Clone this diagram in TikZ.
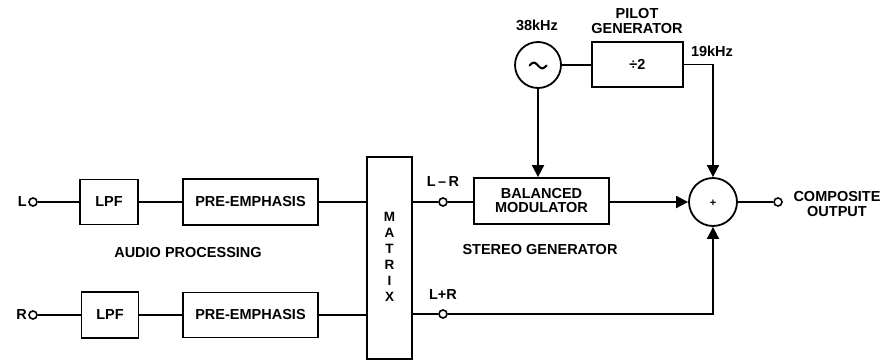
\documentclass[tikz,border=0pt]{standalone}
\usepackage{fontspec}
\setmainfont{Liberation Sans}
\usetikzlibrary{arrows.meta,calc}
\tikzset{
  blk/.style={draw, line width=1.8pt, minimum width=#1, inner sep=0pt, font=\fontsize{14.5}{15}\selectfont\bfseries, align=center},
  blk/.default={50pt},
  term/.style={circle, draw, line width=1.6pt, fill=white, minimum size=8pt, inner sep=0pt},
  lbl/.style={font=\fontsize{14.5}{15.5}\selectfont\bfseries, align=center, inner sep=0pt},
  wire/.style={line width=1.8pt},
  arr/.style={line width=1.8pt, -{Triangle[length=12pt,width=12pt]}},
  rnd/.style={circle, draw, line width=1.8pt, minimum size=#1, inner sep=0pt},
}
\begin{document}
\begin{tikzpicture}[x=1pt,y=-1pt]
\useasboundingbox (0,0) rectangle (885,362);
% top row
\node[term] (lin) at (33,202) {};
\node[lbl, anchor=east] (ltxt) at (27,202) {L};
\node[blk, minimum width=58pt, minimum height=45pt] (lpf1) at (109,202) {LPF};
\node[blk, minimum width=135pt, minimum height=46pt] (pe1) at (250.5,202) {PRE-EMPHASIS};
% bottom row
\node[term] (rin) at (33,315) {};
\node[lbl, anchor=east] (rtxt) at (27,315) {R};
\node[blk, minimum width=57pt, minimum height=46pt] (lpf2) at (110,315) {LPF};
\node[blk, minimum width=135pt, minimum height=45pt] (pe2) at (250.5,315) {PRE-EMPHASIS};
% matrix
\node[blk, minimum width=45pt, minimum height=202pt] (mtx) at (389.5,258) {};
\node[lbl, font=\fontsize{13.5}{16}\selectfont\bfseries] (mtxt) at (389.5,257) {M\\A\\T\\R\\I\\X};
\node[lbl] (aud) at (188,253) {AUDIO PROCESSING};
% stereo generator
\node[term] (lmr) at (443,202) {};
\node[lbl] (lmrt) at (443,182) {L\,--\,R};
\node[term] (lpr) at (443,314) {};
\node[lbl] (lprt) at (443,295) {L+R};
\node[blk, minimum width=135pt, minimum height=46pt] (bm) at (541.5,201) {BALANCED\\[-1pt]MODULATOR};
\node[lbl] (sg) at (540,250) {STEREO GENERATOR};
\node[rnd=48pt] (sum) at (713,202) {};
\node[font=\fontsize{11}{12}\selectfont\bfseries, inner sep=0pt] (plus) at (713,203) {+};
\node[term] (out) at (778,202) {};
\node[lbl] (outt) at (837,204) {COMPOSITE\\OUTPUT};
% pilot
\node[rnd=46pt] (osc) at (538,65) {};
\draw[line width=2.1pt, line cap=round] plot[domain=-8.5:8.5, samples=40, smooth] ({538+\x}, {65.5+2.8*sin(\x*21.2)});
\node[lbl] (f38) at (537,25) {38kHz};
\node[blk, minimum width=91pt, minimum height=45pt] (div) at (637.5,64.5) {÷2};
\node[lbl] (pg) at (637,21) {PILOT\\GENERATOR};
\node[lbl] (f19) at (712,51) {19kHz};
% wires
\draw[wire] (lin) -- (lpf1) -- (pe1) -- (pe1.east -| mtx.west);
\draw[wire] (rin) -- (lpf2) -- (pe2) -- (pe2.east -| mtx.west);
\draw[wire] (lmr -| mtx.east) -- (lmr) -- (lmr -| bm.west);
\draw[wire] (lpr -| mtx.east) -- (lpr);
\draw[arr] (bm.east |- sum.west) -- (sum.west);
\draw[wire] (sum.east) -- (out);
\draw[wire] (osc.east) -- (osc.east -| div.west);
\draw[arr] (osc.south) -- (osc.south |- bm.north);
\draw[arr] (div.east) -| (sum.north);
\draw[arr] (lpr) -| (sum.south);
\end{tikzpicture}
\end{document}
